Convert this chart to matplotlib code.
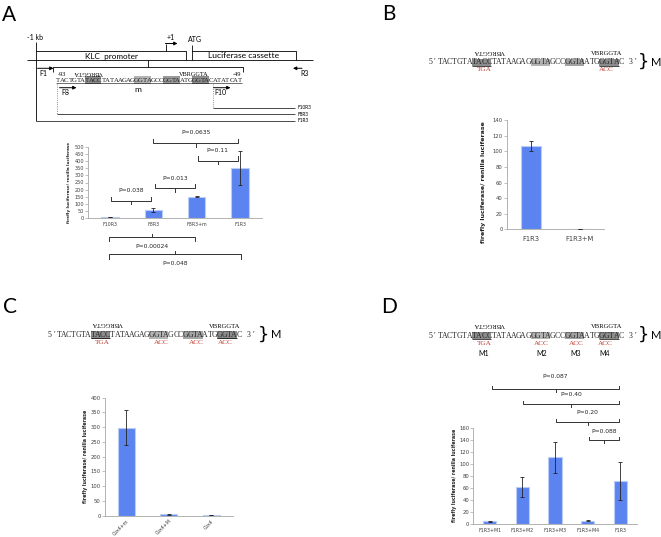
import matplotlib
matplotlib.use("Agg")
import matplotlib.pyplot as plt
from matplotlib.patches import Rectangle

W, H = 661, 537
BLUE = "#5b84f0"
EDGE = "#b9cdf8"
RED = "#c0392b"
SERIF = ["Liberation Serif", "DejaVu Serif"]
SANS = ["Lato", "DejaVu Sans"]

# ---- data ----
a_cats = ["F10R3", "F8R3", "F8R3+m", "F1R3"]
a_vals = [2, 55, 150, 355]
a_err = [0, 15, 3, 120]
a_pvals = [(1.0, 2.95, 528, 604, "P=0.0635"),
           (2.02, 2.95, 405, 476, "P=0.11"),
           (1.05, 1.95, 209, 280, "P=0.013"),
           (0.02, 0.94, 119, 192, "P=0.038")]
a_pvals_low = [(-0.02, 1.95, -139, -206, "P=0.00024"),
               (-0.02, 3.02, -260, -324, "P=0.048")]

b_cats = ["F1R3", "F1R3+M"]
b_vals = [107, 0.5]
b_err = [7, 0]

c_cats = ["Cox4+m", "Cox4+M", "Cox4"]
c_vals = [298, 5, 2]
c_err = [60, 1, 0.5]

d_cats = ["F1R3+M1", "F1R3+M2", "F1R3+M3", "F1R3+M4", "F1R3"]
d_vals = [5, 62, 112, 6, 72]
d_err = [1, 17, 26, 1, 32]
d_pvals = [(0.07, 3.97, 225, 247, "P=0.087"),
           (1.01, 3.97, 200, 217, "P=0.40"),
           (2.03, 3.97, 170, 186, "P=0.20"),
           (3.05, 3.97, 140, 155, "P=0.088")]

seq_a = "TACTGTATACCTATAAGAGGGTAGCCGGTAATGGGTACATATCAT"
seq_m = "5\u2032TACTGTATACCTATAAGAGGGTAGCCGGTAATGGGTAC 3\u2032"
hl_a = [(7, 4, "#8c8c8c"), (19, 4, "#b4b4b4"), (26, 4, "#9a9a9a"), (33, 4, "#8c8c8c")]
hl_m = [(9, 4, "#8c8c8c"), (21, 4, "#b4b4b4"), (28, 4, "#a4a4a4"), (35, 4, "#8c8c8c")]

fig = plt.figure(figsize=(W / 100, H / 100), dpi=100)
ov = fig.add_axes([0, 0, 1, 1])
ov.set_xlim(0, W)
ov.set_ylim(H, 0)
ov.axis("off")


def line(xs, ys, **kw):
    kw.setdefault("color", "black")
    kw.setdefault("lw", 0.6)
    ov.plot(xs, ys, solid_capstyle="butt", **kw)


def arrow(x1, x2, y):
    ov.annotate("", xy=(x2, y), xytext=(x1, y),
                arrowprops=dict(arrowstyle="-|>", lw=0.7, color="black",
                                mutation_scale=5, shrinkA=0, shrinkB=0))


def txt(x, y, s, fs, **kw):
    kw.setdefault("ha", "center")
    kw.setdefault("va", "center")
    kw.setdefault("family", SANS)
    ov.text(x, y, s, fontsize=fs, **kw)


def sequence(x0, y, s, w, fs, hl, ul=None):
    for st, n, col in hl:
        ov.add_patch(Rectangle((x0 + st * w, y - 3.6), n * w, 7.2, color=col, lw=0))
    for i, ch in enumerate(s):
        ov.text(x0 + (i + 0.5) * w, y, ch, fontsize=fs, ha="center", va="center",
                family=SERIF, color="#222222")
    for st, n in (ul or []):
        line([x0 + st * w, x0 + (st + n) * w], [y + 3.2, y + 3.2], lw=0.5)


def motif_panel(x0, y, w, bx, red_labels, mlabels=None):
    sequence(x0, y, seq_m, w, 5.6, hl_m, ul=[(9, 4), (35, 4)])
    txt(x0 + 12.5 * w, y - 11, "VBRGGTA", 4.8, family=SERIF, rotation=180)
    txt(x0 + 36.5 * w, y - 9, "VBRGGTA", 4.8, family=SERIF)
    for idx, lab in red_labels:
        txt(x0 + idx * w, y + 7.5, lab, 5.2, family=SERIF, color=RED)
    if mlabels:
        for idx, lab in mlabels:
            txt(x0 + idx * w, y + 18, lab, 5)
    txt(bx, y - 0.5, "}", 13, family=["DejaVu Sans"])
    txt(bx + 13, y, "M", 8, ha="center")


# ---- panel letters ----
for lx, ly, lab in [(9, 15, "A"), (389, 14, "B"), (10, 307, "C"), (389, 307, "D")]:
    txt(lx, ly, lab, 15)

# ---- panel A schematic ----
line([26.7, 313.3], [60, 60])
line([35.7, 35.7], [42, 120.7])
line([35.7, 186, 186], [51, 51, 60])
line([192.3, 192.3], [45, 60])
line([192.3, 296, 296], [51, 51, 60])
txt(27, 37, "-1 kb", 5, ha="left")
txt(111.7, 56, "KLC  promoter", 5.9)
txt(244, 56, "Luciferase cassette", 6.1)
line([165.7, 165.7], [51, 43.5])
arrow(165.4, 177.5, 43.5)
txt(170.7, 37, "+1", 5)
txt(194.5, 40, "ATG", 5)
line([147.7, 147.7], [60, 66.7])
line([53.3, 53.3, 242.7, 242.7], [71.7, 66.7, 66.7, 71.7])
arrow(37.5, 53.5, 68.3)
txt(43.5, 73.5, "F1", 5)
arrow(302, 293, 68.3)
txt(305, 73.5, "R3", 5)
txt(57.5, 74, "-93", 4.5, ha="left", family=SERIF)
txt(241, 74, "-49", 4.5, ha="right", family=SERIF)
txt(88.5, 72.5, "VBRGGTA", 4.5, family=SERIF, rotation=180)
txt(193.5, 74, "VBRGGTA", 4.5, family=SERIF)
sequence(56, 80, seq_a, 4.13, 4.9, hl_a)
line([56, 241.8], [82.7, 82.7], lw=0.4)
arrow(59.5, 76.5, 87.7)
txt(65.5, 92.7, "F8", 5)
txt(138.3, 90, "m", 6)
arrow(213.5, 230.5, 87.7)
txt(220.5, 92.7, "F10", 5)
line([57, 57], [84, 114], ls=":", color="#666666")
line([213.3, 213.3], [84, 107.7], ls=":", color="#666666")
for yy, lab, x1 in [(107.7, "F10R3", 213.3), (114, "F8R3", 57), (120.7, "F1R3", 35.7)]:
    line([x1, 295], [yy, yy], lw=0.5)
    txt(297.5, yy, lab, 3.4, ha="left")

# ---- motif rows ----
motif_panel(427.6, 62.3, 4.9, 643, [(11.5, "TGA"), (36.5, "ACC")])
motif_panel(46.7, 335, 4.87, 263.5,
            [(11.5, "TGA"), (23.6, "ACC"), (30.7, "ACC"), (36.6, "ACC")])
motif_panel(427.6, 335.7, 4.9, 643,
            [(11.5, "TGA"), (23.3, "ACC"), (30.3, "ACC"), (36.2, "ACC")],
            mlabels=[(11.5, "M1"), (23.3, "M2"), (30.3, "M3"), (36.2, "M4")])


# ---- bar charts ----
def bar_axes(l, r, t, b):
    return fig.add_axes([l / W, (H - b) / H, (r - l) / W, (b - t) / H], facecolor="none")


def bars(ax, cats, vals, err, ylim, step, tfs, xfs, xpad, ylab, ylfs, lx, ly, bold=True):
    x = list(range(len(cats)))
    ax.bar(x, vals, width=0.4, color=BLUE, edgecolor=EDGE, linewidth=0.8, zorder=2)
    ax.errorbar(x, vals, yerr=err, fmt="none", ecolor="#222222", elinewidth=0.6,
                capsize=1.5, capthick=0.6, zorder=3)
    ax.set_xlim(-0.5, len(cats) - 0.5)
    ax.set_ylim(0, ylim)
    ax.set_yticks(range(0, ylim + 1, step))
    ax.set_xticks(x)
    ax.set_xticklabels(cats)
    for s in ["top", "right"]:
        ax.spines[s].set_visible(False)
    for s in ["left", "bottom"]:
        ax.spines[s].set_color("#a6a6a6")
        ax.spines[s].set_linewidth(0.6)
    ax.tick_params(axis="y", length=2, width=0.5, color="#a6a6a6", labelcolor="#404040",
                   labelsize=tfs, pad=1)
    ax.tick_params(axis="x", length=0, labelcolor="#404040", labelsize=xfs, pad=xpad)
    ax.set_ylabel(ylab, fontsize=ylfs, fontweight="bold" if bold else "normal",
                  color="#222222")
    ax.yaxis.set_label_coords(lx, ly)


def bracket(ax, x1, x2, y, ty, lab, h, fs, up=True):
    s = -1 if up else 1
    ax.plot([x1, x1, x2, x2], [y - s * h, y, y, y - s * h], color="#333333", lw=0.7,
            clip_on=False)
    xm = (x1 + x2) / 2
    ax.plot([xm, xm], [y, y + s * h * 0.8], color="#333333", lw=0.7, clip_on=False)
    ax.text(xm, ty, lab, fontsize=fs, ha="center", va="center", color="#222222",
            clip_on=False)


ylab = "firefly luciferase/ renilla luciferase"

axA = bar_axes(88.3, 261.7, 147.3, 217.7)
bars(axA, a_cats, a_vals, a_err, 500, 50, 3.6, 3.4, 3, ylab, 3.0, -0.10, 0.5)
for x1, x2, y, ty, lab in a_pvals:
    bracket(axA, x1, x2, y, ty, lab, 30, 4.3)
for x1, x2, y, ty, lab in a_pvals_low:
    bracket(axA, x1, x2, y, ty, lab, 30, 4.3, up=False)

axB = bar_axes(506.7, 604.3, 120.3, 229.3)
bars(axB, b_cats, b_vals, b_err, 140, 20, 3.8, 4.9, 5, ylab, 4.5, -0.215, 0.43)

axC = bar_axes(105, 232.7, 397.7, 515.7)
bars(axC, c_cats, c_vals, c_err, 400, 50, 3.8, 3.4, 2, ylab, 3.4, -0.13, 0.5)
for t in axC.get_xticklabels():
    t.set_rotation(45)
    t.set_ha("right")
    t.set_rotation_mode("anchor")

axD = bar_axes(473.3, 636.7, 428.3, 524.3)
bars(axD, d_cats, d_vals, d_err, 160, 20, 3.8, 3.4, 3, ylab, 3.4, -0.10, 0.51)
for x1, x2, y, ty, lab in d_pvals:
    bracket(axD, x1, x2, y, ty, lab, 6, 4.3)

fig.savefig("out.png", dpi=100)
